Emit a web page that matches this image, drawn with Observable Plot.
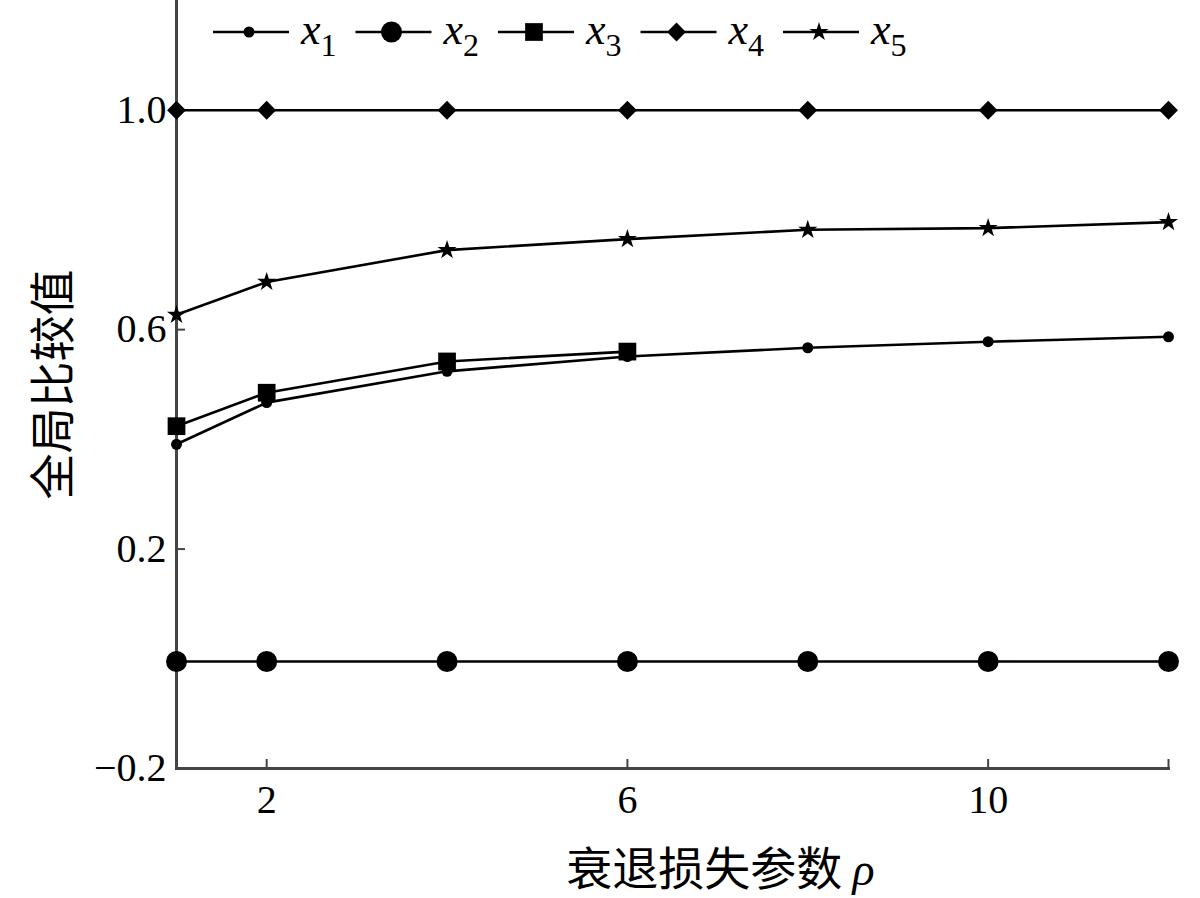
<!DOCTYPE html>
<html>
<head>
<meta charset="utf-8">
<script src="https://cdn.jsdelivr.net/npm/d3@7"></script>
<script src="https://cdn.jsdelivr.net/npm/@observablehq/plot@0.6"></script>
<style>
  html, body { margin: 0; padding: 0; background: #fff; }
  #wrap { position: relative; width: 1200px; height: 898px; }
  #legend { position: absolute; left: 0; top: 0; }
</style>
</head>
<body>
<div id="wrap"></div>
<script>
// ---- data ----
const rho = [1, 2, 4, 6, 8, 10, 12];
const rhoX3 = [1, 2, 4, 6];
const seriesNames = ["x1", "x2", "x3", "x4", "x5"];
const x1Values = [0.391, 0.467, 0.524, 0.551, 0.567, 0.578, 0.587];
const x2Values = [-0.005, -0.005, -0.005, -0.005, -0.005, -0.005, -0.005];
const x3Values = [0.424, 0.485, 0.542, 0.560];
const x4Values = [1.0, 1.0, 1.0, 1.0, 1.0, 1.0, 1.0];
const x5Values = [0.627, 0.687, 0.745, 0.765, 0.782, 0.785, 0.796];
const yTickValues = [-0.2, 0.2, 0.6, 1.0];
const xTickLabels = [2, 6, 10];
const xTickMarks = [2, 6, 10, 12];
const xTitle = "衰退损失参数";
const xTitleSymbol = "ρ";
const yTitle = "全局比较值";

// symbol + size per series (style, not data)
const symbolOf = {x1: "circle", x2: "circle", x3: "square", x4: "diamond2", x5: "star"};
const rOf = {x1: 5.5, x2: 10.5, x3: 10, x4: 8.5, x5: 6};

const rows = [];
const add = (name, xs, ys) => xs.forEach((x, i) => rows.push({series: name, rho: x, value: ys[i]}));
add("x1", rho, x1Values);
add("x2", rho, x2Values);
add("x3", rhoX3, x3Values);
add("x4", rho, x4Values);
add("x5", rho, x5Values);

const dotMarks = seriesNames.map(name =>
  Plot.dot(rows.filter(d => d.series === name), {
    x: "rho", y: "value", symbol: () => symbolOf[name], r: rOf[name],
    fill: "#000", stroke: "none"
  })
);

const chart = Plot.plot({
  width: 1200,
  height: 898,
  marginLeft: 176,
  marginRight: 32,
  marginTop: 0,
  marginBottom: 130,
  style: {fontFamily: "'Liberation Serif', 'Times New Roman', serif", fontSize: "40px", color: "#000", background: "#fff"},
  x: {domain: [1, 12]},
  y: {domain: [-0.2, 1.2]},
  marks: [
    Plot.frame({anchor: "left", stroke: "#444", strokeWidth: 3}),
    Plot.frame({anchor: "bottom", stroke: "#444", strokeWidth: 3}),
    Plot.axisY(yTickValues, {tickSize: 0, tickPadding: 10, tickFormat: d3.format(".1f"),
      fontSize: 40, label: yTitle, labelAnchor: "center", labelArrow: "none", labelOffset: 140}),
    Plot.axisY(yTickValues, {tickSize: 9, dx: 9, tickFormat: () => "", label: null, strokeWidth: 2, stroke: "#444"}),
    Plot.axisX(xTickLabels, {tickSize: 0, tickPadding: 16, tickFormat: d3.format("d"),
      fontSize: 40, label: xTitle, labelAnchor: "center", labelArrow: "none", labelOffset: 116}),
    Plot.axisX(xTickMarks, {tickSize: 9, dy: -9, tickFormat: () => "", label: null, strokeWidth: 2, stroke: "#444"}),
    Plot.line(rows, {x: "rho", y: "value", z: "series", stroke: "#000", strokeWidth: 2.6}),
    ...dotMarks
  ]
});

document.getElementById("wrap").appendChild(chart);

// style axis titles (CJK font) and append italic rho
d3.select(chart).selectAll('g[aria-label="x-axis label"] text, g[aria-label="y-axis label"] text')
  .style("font-family", "'Noto Sans CJK SC', sans-serif")
  .style("font-size", "46px");
const xLab = d3.select(chart).select('g[aria-label="x-axis label"] text');
if (!xLab.empty()) {
  xLab.text(null);
  xLab.attr("dx", 48);
  xLab.append("tspan").text(xTitle + " ");
  xLab.append("tspan").text(xTitleSymbol)
    .style("font-family", "'Liberation Serif', serif").style("font-style", "italic");
}

// ---- legend overlay ----
const lg = d3.select("#wrap").append("svg").attr("id", "legend")
  .attr("width", 1200).attr("height", 80);
const sym = {circle: d3.symbolCircle, square: d3.symbolSquare, diamond2: d3.symbolDiamond2, star: d3.symbolStar};
seriesNames.forEach((name, i) => {
  const x0 = 213 + i * 142.5, cy = 32;
  const g = lg.append("g").attr("transform", `translate(${x0},0)`);
  g.append("line").attr("x1", 0).attr("x2", 76).attr("y1", cy).attr("y2", cy)
    .attr("stroke", "#000").attr("stroke-width", 2.6);
  g.append("path")
    .attr("d", d3.symbol(sym[symbolOf[name]], Math.PI * rOf[name] * rOf[name])())
    .attr("transform", `translate(36,${cy})`).attr("fill", "#000");
  const t = g.append("text").attr("x", 88).attr("y", cy + 12)
    .style("font-family", "'Liberation Serif', serif").style("font-size", "44px");
  t.append("tspan").text(name[0]).style("font-style", "italic");
  t.append("tspan").text(name.slice(1)).attr("dy", 12).style("font-size", "32px");
});
</script>
</body>
</html>
